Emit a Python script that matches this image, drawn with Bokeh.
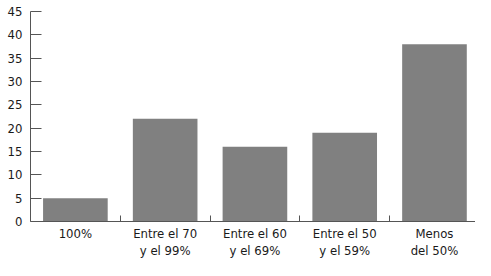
from bokeh.plotting import figure
from bokeh.models import Range1d, FixedTicker
from bokeh.embed import file_html
from bokeh.resources import INLINE

categories = ["100%", "Entre el 70\ny el 99%", "Entre el 60\ny el 69%", "Entre el 50\ny el 59%", "Menos\ndel 50%"]
values = [5, 22, 16, 19, 38]
y_ticks = [0, 5, 10, 15, 20, 25, 30, 35, 40, 45]

xs = [i + 0.5 for i in range(len(categories))]
bounds = [i for i in range(1, len(categories))]

FONT = "DejaVu Sans Condensed, sans-serif"

p = figure(width=475, height=260, output_backend="svg", toolbar_location=None,
           x_range=Range1d(0, 4.957), y_range=Range1d(0, 45),
           min_border_left=30, min_border_right=0, min_border_top=11, min_border_bottom=38)
p.title.visible = False
p.outline_line_color = None
p.grid.grid_line_color = None
p.background_fill_color = "white"
p.border_fill_color = "white"

p.vbar(x=xs, top=values, width=0.72, fill_color="#808080", line_color=None)

ya = p.yaxis[0]
ya.ticker = FixedTicker(ticks=y_ticks, minor_ticks=[])
ya.major_tick_in = 11
ya.major_tick_out = 0
ya.minor_tick_in = 0
ya.minor_tick_out = 0
ya.axis_line_color = "#555555"
ya.major_tick_line_color = "#555555"
ya.major_label_text_font = FONT
ya.major_label_text_font_size = "13px"
ya.major_label_text_color = "#1a1a1a"
ya.major_label_standoff = 8

xa = p.xaxis[0]
xa.ticker = FixedTicker(ticks=xs, minor_ticks=bounds)
xa.major_label_overrides = {x: c for x, c in zip(xs, categories)}
xa.major_tick_in = 0
xa.major_tick_out = 0
xa.minor_tick_in = 6
xa.minor_tick_out = 0
xa.axis_line_color = "#555555"
xa.minor_tick_line_color = "#555555"
xa.major_label_text_font = FONT
xa.major_label_text_font_size = "13px"
xa.major_label_text_line_height = 1.15
xa.major_label_text_color = "#1a1a1a"
xa.major_label_standoff = 4

open("out.html", "w").write(file_html(p, INLINE))
